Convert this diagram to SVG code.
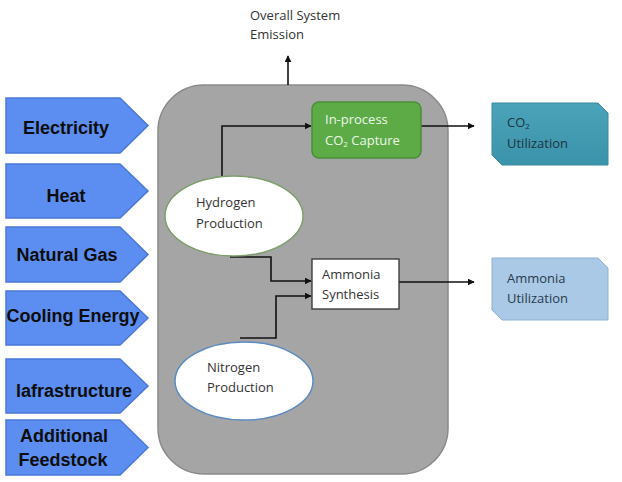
<svg xmlns="http://www.w3.org/2000/svg" width="622" height="482" viewBox="0 0 622 482">
<style>
.inp{fill:#5b8ef0;stroke:#4a78d6;stroke-width:1.5}
.inl{font-family:"Liberation Sans",Arial,sans-serif;font-weight:bold;font-size:18px;fill:#0d0d0d;text-anchor:middle}
.t{font-family:"Open Sans","Liberation Sans",sans-serif;font-size:13px;fill:#333}
.con{fill:none;stroke:#111;stroke-width:1.6}
</style>
<defs>
<marker id="ah" viewBox="0 0 10 10" refX="9" refY="5" markerWidth="7" markerHeight="7" markerUnits="userSpaceOnUse" orient="auto">
<path d="M0,0 L10,5 L0,10 z" fill="#111"/>
</marker>
<linearGradient id="tealg" x1="0" y1="0" x2="0" y2="1">
<stop offset="0" stop-color="#4aa3b8"/><stop offset="1" stop-color="#3a93aa"/>
</linearGradient>
</defs>
<rect width="622" height="482" fill="#fff"/>

<g id="inputs">
<g id="electricity"><path class="inp" d="M6,98 H120 L148,125.5 L120,153 H6 Z"/><text class="inl" x="66" y="134">Electricity</text></g>
<g id="heat"><path class="inp" d="M6,164 H120 L148,191 L120,218 H6 Z"/><text class="inl" x="66" y="202">Heat</text></g>
<g id="natural-gas"><path class="inp" d="M6,227 H120 L148,254.5 L120,282 H6 Z"/><text class="inl" x="67" y="261">Natural Gas</text></g>
<g id="cooling"><path class="inp" d="M6,291 H120 L148,318 L120,345 H6 Z"/><text class="inl" x="73" y="322">Cooling Energy</text></g>
<g id="infrastructure"><path class="inp" d="M6,359 H120 L148,386 L120,413 H6 Z"/><text class="inl" x="74" y="397">lafrastructure</text></g>
<g id="feedstock"><path class="inp" d="M6,420 H120 L148,447.5 L120,475 H6 Z"/><text class="inl" x="64" y="442">Additional</text><text class="inl" x="63" y="466">Feedstock</text></g>
</g>

<g id="system"><rect x="158" y="85" width="290" height="389" rx="46" fill="#a5a5a5" stroke="#8a8a8a" stroke-width="1.5"/></g>

<g id="emission"><text class="t" x="250" y="20">Overall System</text><text class="t" x="250" y="39">Emission</text></g>

<g id="connectors">
<path class="con" d="M288,85 V56" marker-end="url(#ah)"/>
<path class="con" d="M222,177 V126 H311" marker-end="url(#ah)"/>
<path class="con" d="M421,126 H474" marker-end="url(#ah)"/>
<path class="con" d="M230,257 H271 V281 H311" marker-end="url(#ah)"/>
<path class="con" d="M240,338 H276 V296 H311" marker-end="url(#ah)"/>
<path class="con" d="M399,282 H474" marker-end="url(#ah)"/>
</g>

<g id="co2-capture"><rect x="312" y="102" width="109" height="56" rx="7" fill="#5cab47" stroke="#4a8f38" stroke-width="1.5"/>
<text class="t" x="325" y="124" style="fill:#eef7e8">In-process</text>
<text class="t" x="325" y="145" style="fill:#eef7e8">CO<tspan font-size="8" dy="2">2</tspan><tspan dy="-2"> Capture</tspan></text></g>

<g id="hydrogen"><ellipse cx="234" cy="216" rx="69" ry="40" fill="#fff" stroke="#7da06a" stroke-width="1.5"/>
<text class="t" x="196" y="207">Hydrogen</text><text class="t" x="196" y="228">Production</text></g>

<g id="nitrogen"><ellipse cx="244" cy="381" rx="69" ry="39" fill="#fff" stroke="#5b8cc2" stroke-width="1.5"/>
<text class="t" x="207" y="372">Nitrogen</text><text class="t" x="207" y="392">Production</text></g>

<g id="ammonia-synthesis"><rect x="312" y="259" width="87" height="50" fill="#fff" stroke="#333" stroke-width="1.3"/>
<text class="t" x="322" y="279">Ammonia</text><text class="t" x="322" y="299">Synthesis</text></g>

<g id="co2-utilization"><path d="M492,103 H598 L608,113 V165 H502 L492,155 Z" fill="url(#tealg)" stroke="#3a8aa0" stroke-width="1"/>
<text class="t" x="507" y="127" style="fill:#1f3340">CO<tspan font-size="8" dy="2">2</tspan></text><text class="t" x="507" y="148" style="fill:#1f3340">Utilization</text></g>

<g id="ammonia-utilization"><path d="M492,258 H598 L608,268 V320 H502 L492,310 Z" fill="#a9c9e6" stroke="#8eb3d6" stroke-width="1"/>
<text class="t" x="507" y="283" style="fill:#2b3a4a">Ammonia</text><text class="t" x="507" y="303" style="fill:#2b3a4a">Utilization</text></g>
</svg>
